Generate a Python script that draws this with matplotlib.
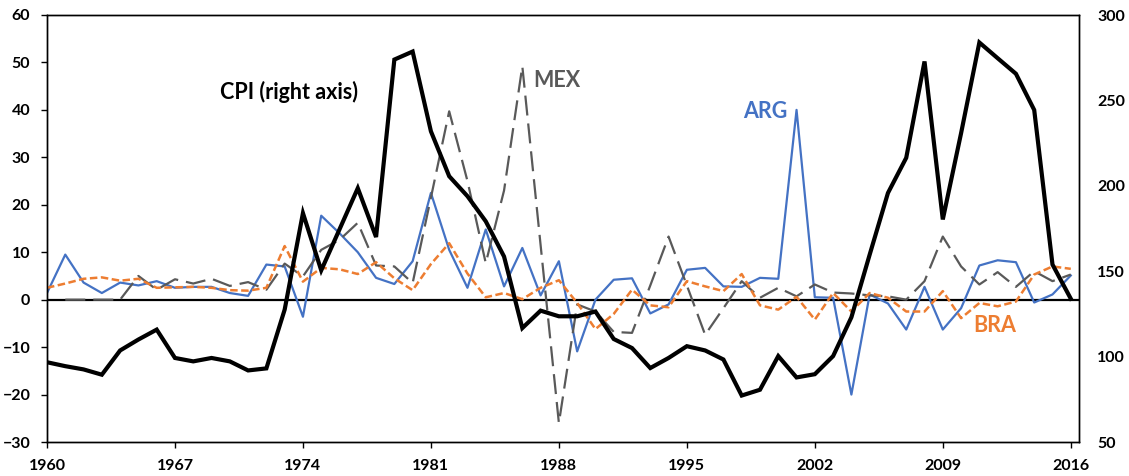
import numpy as np
import matplotlib
matplotlib.use("Agg")
import matplotlib.pyplot as plt

years = list(range(1960, 2017))

arg = [1.4, 9.5, 3.6, 1.4, 3.6, 3.0, 3.9, 2.5, 2.7, 2.7,
       1.4, 0.8, 7.4, 7.0, -3.6, 17.7, 14.0, 10.0, 4.6, 3.3,
       8.1, 22.5, 10.5, 2.5, 14.8, 2.8, 10.9, 0.9, 8.1, -10.9,
       0.0, 4.2, 4.5, -2.9, -1.0, 6.3, 6.7, 2.8, 2.7, 4.6,
       4.4, 40.0, 0.5, 0.4, -20.0, 1.1, -0.8, -6.3, 2.7, -6.3,
       -1.8, 7.2, 8.3, 7.9, -0.6, 1.1, 5.1]

mex = [np.nan, 0.0, 0.0, 0.0, 0.0, 5.0, 2.1, 4.3, 3.4, 4.4,
       2.9, 3.7, 2.1, 7.6, 4.9, 10.5, 12.6, 16.2, 7.2, 7.0,
       3.5, 21.5, 39.7, 25.0, 7.7, 23.0, 49.2, 11.5, -26.0, -1.0,
       -2.5, -6.8, -7.0, 3.0, 13.3, 3.0, -7.4, -1.8, 3.9, 0.4,
       2.5, 0.7, 3.2, 1.5, 1.3, 0.9, 0.7, 0.0, 3.9, 13.3,
       7.0, 3.2, 5.8, 2.7, 6.0, 3.9, 5.3]

bra = [2.5, 3.4, 4.4, 4.7, 4.0, 4.4, 2.5, 2.6, 2.7, 2.5,
       2.0, 1.9, 2.5, 11.3, 3.8, 6.7, 6.4, 5.4, 7.9, 4.5,
       2.0, 7.5, 11.9, 5.5, 0.5, 1.4, 0.1, 2.5, 4.1, -0.7,
       -6.2, -3.0, 2.1, -1.2, -1.6, 3.9, 2.8, 1.8, 5.4, -1.2,
       -2.1, 0.6, -4.2, 1.4, -2.5, 1.4, 0.4, -2.5, -2.5, 1.8,
       -3.9, -0.7, -1.4, -0.4, 5.3, 7.0, 6.5]

cpi = [96.7, 94.4, 92.5, 89.4, 103.6, 110.0, 115.8, 99.2, 97.2, 99.2,
       97.2, 91.9, 93.1, 127.5, 184.0, 150.5, 174.5, 198.6, 170.0, 273.9,
       278.6, 231.9, 205.6, 193.9, 179.2, 158.6, 116.7, 126.9, 123.6, 123.6,
       126.4, 110.3, 105.0, 93.3, 99.2, 106.1, 103.6, 98.3, 77.2, 80.6,
       100.3, 87.8, 89.7, 100.3, 123.0, 159.7, 195.8, 216.4, 272.8, 180.3,
       230.8, 283.9, 274.7, 265.6, 244.4, 153.9, 133.9]

xticks = [1960, 1967, 1974, 1981, 1988, 1995, 2002, 2009, 2016]
left_ticks = list(range(-30, 61, 10))
right_ticks = list(range(50, 301, 50))

FONT = "Lato"
C_ARG = "#4472C4"
C_MEX = "#595959"
C_BRA = "#ED7D31"
TICK_FS = 11.5

fig = plt.figure(figsize=(11.29, 4.76), dpi=100)
ax = fig.add_axes([47/1129, 1-442/476, (1079-47)/1129, (442-15)/476])

ax.axhline(0, color="black", lw=1.6, zorder=1)
ax.plot(years, arg, color=C_ARG, lw=1.6, zorder=2)
l_mex, = ax.plot(years, mex, color=C_MEX, lw=1.6, zorder=3, dash_capstyle="butt")
l_mex.set_dashes((9, 3.6))
l_bra, = ax.plot(years, bra, color=C_BRA, lw=1.8, zorder=4, dash_capstyle="butt")
l_bra.set_dashes((3.0, 1.4))

ax.set_xlim(1960, 2016.45)
ax.set_ylim(-30, 60)
ax.set_xticks(xticks)
ax.set_yticks(left_ticks)
ax.tick_params(axis="x", direction="out", length=4, width=1, pad=8)
ax.tick_params(axis="y", direction="out", length=4, width=1, pad=8)
for lab in ax.get_xticklabels() + ax.get_yticklabels():
    lab.set_fontfamily(FONT)
    lab.set_fontweight("bold")
    lab.set_fontsize(TICK_FS)

ax2 = ax.twinx()
ax2.plot(years, cpi, color="black", lw=3.0, zorder=5, solid_joinstyle="miter")
ax2.set_ylim(50, 300)
ax2.set_yticks(right_ticks)
ax2.tick_params(axis="y", length=0, pad=13)
for lab in ax2.get_yticklabels():
    lab.set_fontfamily(FONT)
    lab.set_fontweight("bold")
    lab.set_fontsize(TICK_FS)

for a in (ax, ax2):
    for s in a.spines.values():
        s.set_linewidth(1.0)
        s.set_color("black")

LBL_FS = 15.5
ax.text(1969.45, 43.8, "CPI (right axis)", fontfamily=FONT, fontweight="bold",
        fontsize=LBL_FS, color="black", va="center", ha="left")
ax.text(1986.6, 46.2, "MEX", fontfamily=FONT, fontweight="bold",
        fontsize=LBL_FS, color=C_MEX, va="center", ha="left")
ax.text(1998.1, 39.6, "ARG", fontfamily=FONT, fontweight="bold",
        fontsize=LBL_FS, color=C_ARG, va="center", ha="left")
ax.text(2010.65, -5.5, "BRA", fontfamily=FONT, fontweight="bold",
        fontsize=LBL_FS, color=C_BRA, va="center", ha="left")

fig.savefig("out.png", dpi=100)
